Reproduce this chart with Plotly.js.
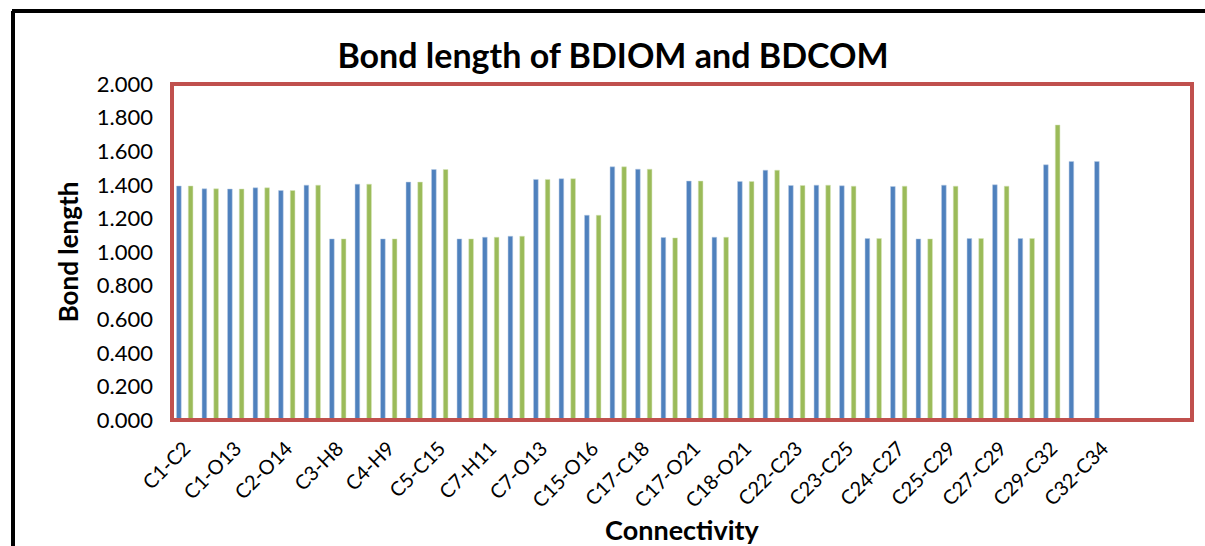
<!DOCTYPE html>
<html>
<head>
<meta charset="utf-8">
<script src="https://cdn.plot.ly/plotly-3.0.1.min.js"></script>
<style>
  html, body { margin: 0; padding: 0; background: #fff; }
  #chart { width: 1205px; height: 546px; }
</style>
</head>
<body>
<div id="chart"></div>
<script>
// Tick labels shown on the axis (every other bond)
const tickLabels = ["C1-C2","C1-O13","C2-O14","C3-H8","C4-H9","C5-C15","C7-H11","C7-O13",
  "C15-O16","C17-C18","C17-O21","C18-O21","C22-C23","C23-C25","C24-C27","C25-C29",
  "C27-C29","C29-C32","C32-C34"];

// Series values (one per bond, in order)
const bdiom = [1.393,1.376,1.375,1.382,1.366,1.398,1.078,1.404,1.078,1.416,1.491,1.078,
  1.088,1.094,1.432,1.436,1.219,1.507,1.493,1.086,1.422,1.088,1.420,1.487,1.396,1.398,
  1.394,1.080,1.390,1.078,1.398,1.080,1.400,1.080,1.519,1.539,1.539];
const bdcom = [1.393,1.376,1.375,1.382,1.366,1.398,1.078,1.404,1.078,1.416,1.491,1.078,
  1.088,1.094,1.432,1.436,1.219,1.507,1.493,1.084,1.422,1.088,1.420,1.487,1.396,1.398,
  1.392,1.080,1.392,1.078,1.392,1.080,1.392,1.080,1.756,null,null];

const totalSlots = 40;
const xIdx = bdiom.map((_, i) => i + 1);
const tickVals = tickLabels.map((_, i) => 2 * i + 1);

const traces = [
  { type: 'bar', name: 'BDIOM', x: xIdx, y: bdiom,
    marker: { color: '#4F81BD', line: { color: '#B9CDE5', width: 0.5 } } },
  { type: 'bar', name: 'BDCOM', x: xIdx, y: bdcom,
    marker: { color: '#9BBB59', line: { color: '#D7E4BD', width: 0.5 } } }
];

const font = "Lato, 'Open Sans', 'DejaVu Sans', sans-serif";

const layout = {
  width: 1205, height: 546,
  margin: { l: 172, r: 13, t: 84, b: 126 },
  paper_bgcolor: '#ffffff', plot_bgcolor: '#ffffff',
  showlegend: false,
  barmode: 'group', bargap: 0.08, bargroupgap: 0.6,
  font: { family: font, color: '#000000' },
  title: { text: '<b>Bond length of BDIOM and BDCOM</b>',
    font: { family: font, size: 34, color: '#000' },
    x: 613/1205, xanchor: 'center', xref: 'container', y: 1 - 56/546, yanchor: 'middle', yref: 'container' },
  xaxis: {
    range: [0.5, totalSlots + 0.5],
    tickmode: 'array', tickvals: tickVals, ticktext: tickLabels,
    tickangle: -45, tickfont: { family: font, size: 20 },
    ticklabelstandoff: 12,
    showgrid: false, zeroline: false, showline: false, ticks: '',
    title: { text: '<b>Connectivity</b>', font: { family: font, size: 27 }, standoff: 10 }
  },
  yaxis: {
    range: [0, 2], dtick: 0.2, tickformat: '.3f',
    tickfont: { family: font, size: 22 },
    ticklabelstandoff: 18,
    showgrid: false, zeroline: false, showline: false, ticks: '',
    title: { text: '<b>Bond length</b>', font: { family: font, size: 26 }, standoff: 10 }
  },
  shapes: [
    { type: 'rect', xref: 'paper', yref: 'paper', x0: 0, x1: 1, y0: 0, y1: 1,
      line: { color: '#C0504D', width: 4 }, fillcolor: 'rgba(0,0,0,0)' },
    // outer black frame (top and left)
    { type: 'line', xref: 'paper', yref: 'paper',
      x0: -160/1020, x1: 1 + 13/1020, y0: 1 + 73/336, y1: 1 + 73/336,
      line: { color: '#000', width: 4 } },
    { type: 'line', xref: 'paper', yref: 'paper',
      x0: -159/1020, x1: -159/1020, y0: -126/336, y1: 1 + 73/336,
      line: { color: '#000', width: 4 } }
  ]
};

Plotly.newPlot('chart', traces, layout, { displayModeBar: false, staticPlot: true });
</script>
</body>
</html>
